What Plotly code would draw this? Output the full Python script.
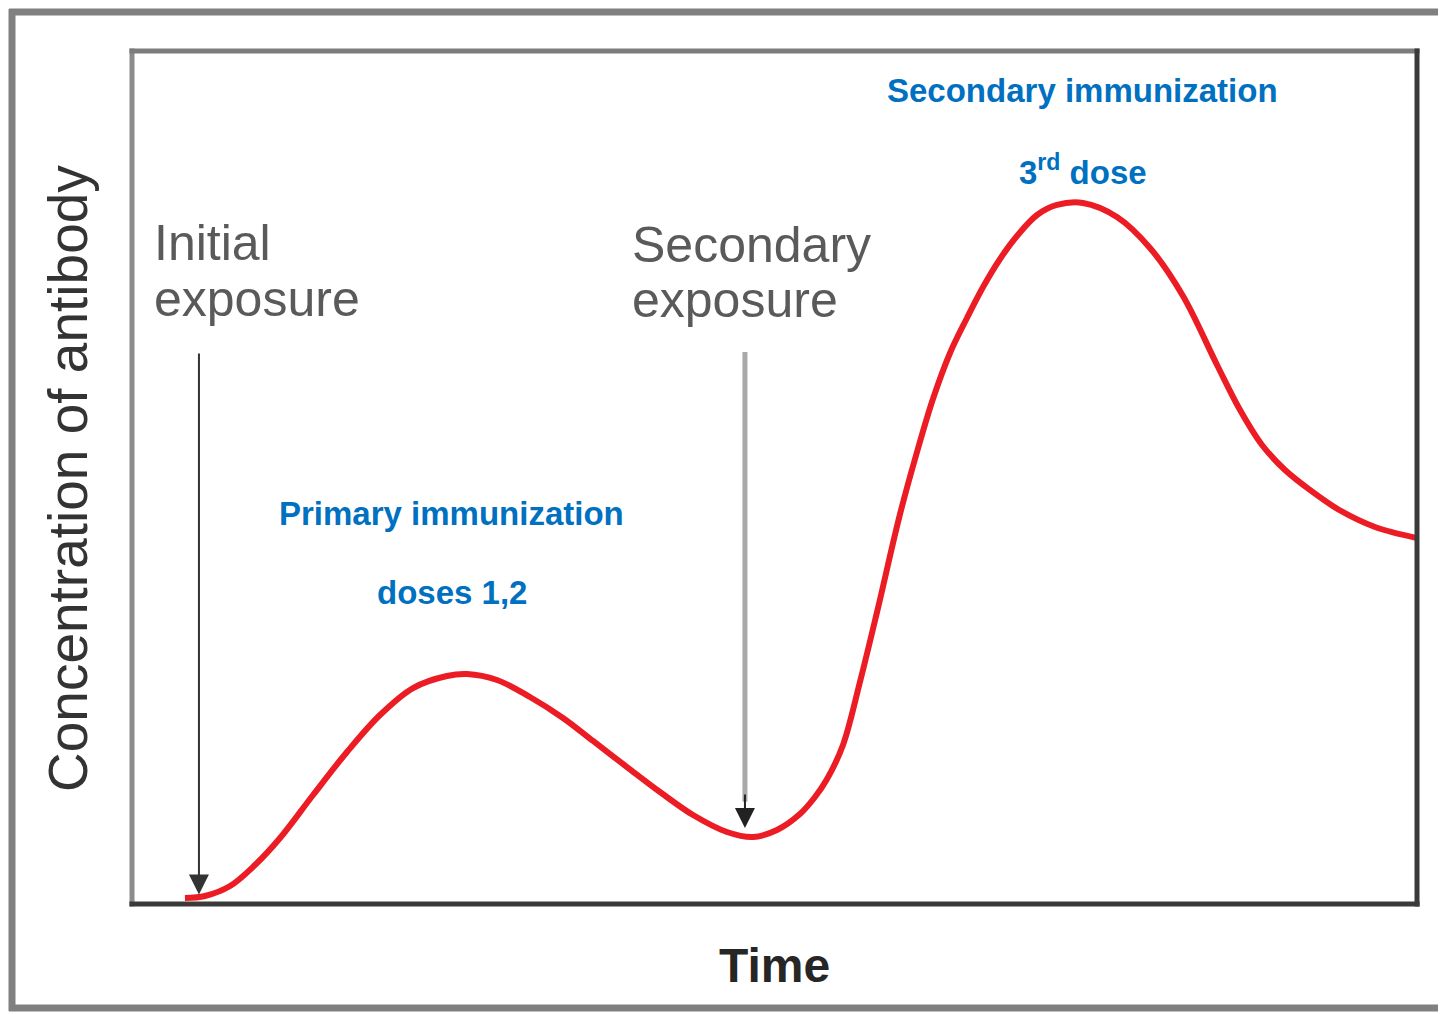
import plotly.graph_objects as go

# ---- data (time in arbitrary units 0-100, concentration 0-100) ----
time = [4.12, 5.68, 7.63, 9.57, 11.52, 14.09, 16.73, 19.30, 21.87, 24.51, 26.07, 28.40,
        30.97, 33.54, 35.88, 38.52, 41.09, 43.66, 46.30, 48.33, 50.19, 51.98, 53.15,
        54.09, 55.33, 56.65, 57.98, 59.77, 61.09, 62.33, 63.66, 64.98, 66.23,
        67.55, 68.87, 70.43, 71.98, 74.01, 76.65, 79.22, 81.79, 84.44,
        86.23, 87.94, 89.73, 91.67, 93.95, 96.73, 100.0]
concentration = [0.70, 0.94, 2.11, 4.57, 7.74, 12.78, 17.82, 22.16, 25.32, 26.73, 26.96, 26.26,
                 24.27, 21.81, 19.11, 16.06, 13.13, 10.43, 8.44, 7.85, 8.68, 10.55, 12.54,
                 14.65, 18.64, 26.03, 34.23, 45.72, 52.99, 59.20, 64.60, 68.70, 72.33,
                 75.62, 78.31, 80.77, 81.95, 82.18, 80.54, 76.91, 71.28, 63.19,
                 57.91, 53.81, 50.88, 48.54, 46.19, 44.20, 42.91]

exposure_times = [5.21, 47.70]
exposure_labels = [["Initial", "exposure"], ["Secondary", "exposure"]]
immunization_labels = [["Primary immunization", "doses 1,2"],
                       ["Secondary immunization", "3<sup>rd</sup> dose"]]
x_title = "Time"
y_title = "Concentration of antibody"

FONT = "Liberation Sans, Arial, sans-serif"
BLUE = "#0070C0"

fig = go.Figure()
fig.add_trace(go.Scatter(
    x=time, y=concentration, mode="lines",
    line=dict(color="#ec1c24", width=6, shape="spline", smoothing=1.0),
    hoverinfo="skip", showlegend=False))

# page pixel -> paper coordinates (plot area spans page x 132..1417, y 51..904)
def px(v):
    return (v - 132) / 1285
def py(v):
    return (904 - v) / 853

shapes = []
# inner plot box
shapes.append(dict(type="line", xref="paper", yref="paper", x0=0, x1=0, y0=-0.003, y1=1.003,
                   line=dict(color="#8c8c8c", width=5)))
shapes.append(dict(type="line", xref="paper", yref="paper", x0=-0.002, x1=1.002, y0=1, y1=1,
                   line=dict(color="#7c7c7c", width=5)))
shapes.append(dict(type="line", xref="paper", yref="paper", x0=-0.002, x1=1.002, y0=0, y1=0,
                   line=dict(color="#3a3a3a", width=5)))
shapes.append(dict(type="line", xref="paper", yref="paper", x0=1, x1=1, y0=-0.003, y1=1.003,
                   line=dict(color="#3a3a3a", width=5)))
# outer frame
shapes.append(dict(type="line", xref="paper", yref="paper", x0=px(12), x1=px(12), y0=py(9), y1=py(1011),
                   line=dict(color="#808080", width=7)))
shapes.append(dict(type="line", xref="paper", yref="paper", x0=px(9), x1=px(1446), y0=py(12), y1=py(12),
                   line=dict(color="#808080", width=7)))
shapes.append(dict(type="line", xref="paper", yref="paper", x0=px(9), x1=px(1446), y0=py(1008), y1=py(1008),
                   line=dict(color="#808080", width=7)))
# secondary exposure arrow shaft (gray)
shapes.append(dict(type="line", xref="x", yref="y", x0=exposure_times[1], x1=exposure_times[1],
                   y0=64.7, y1=12.0, line=dict(color="#a9a9a9", width=5)))

annotations = []
# initial exposure arrow
annotations.append(dict(x=exposure_times[0], y=1.1, ax=exposure_times[0], ay=64.7,
                        xref="x", yref="y", axref="x", ayref="y", text="",
                        showarrow=True, arrowhead=2, arrowsize=2, arrowwidth=2,
                        arrowcolor="#333333"))
# secondary exposure arrow head
annotations.append(dict(x=exposure_times[1], y=8.9, ax=exposure_times[1], ay=13.0,
                        xref="x", yref="y", axref="x", ayref="y", text="",
                        showarrow=True, arrowhead=2, arrowsize=2, arrowwidth=2,
                        arrowcolor="#222222"))

# exposure labels
gray_font = dict(family=FONT, size=50, color="#5a5a5a")
for xl, ys, lines in [(1.55, (77.5, 70.9), exposure_labels[0]),
                      (38.75, (77.3, 70.8), exposure_labels[1])]:
    for yv, t in zip(ys, lines):
        annotations.append(dict(x=xl, y=yv, xref="x", yref="y", text=t, showarrow=False,
                                xanchor="left", yanchor="middle", font=gray_font))

# immunization labels
blue_font = dict(family=FONT, size=33, color=BLUE, weight="bold")
for xc, ys, lines in [(24.9, (45.8, 36.5), immunization_labels[0]),
                      (74.0, (95.4, 86.05), immunization_labels[1])]:
    for yv, t in zip(ys, lines):
        annotations.append(dict(x=xc, y=yv, xref="x", yref="y", text="<b>" + t + "</b>",
                                showarrow=False, xanchor="center", yanchor="middle",
                                font=blue_font))

# axis titles
annotations.append(dict(x=px(774), y=py(965), xref="paper", yref="paper", text="<b>" + x_title + "</b>",
                        showarrow=False, xanchor="center", yanchor="middle",
                        font=dict(family=FONT, size=48, color="#262626")))
annotations.append(dict(x=px(68), y=py(479), xref="paper", yref="paper", text=y_title,
                        textangle=-90, showarrow=False, xanchor="center", yanchor="middle",
                        font=dict(family=FONT, size=55, color="#333333")))

# the page body adds an 8px margin, so the figure is 8px smaller than the window
fig.update_layout(
    width=1438, height=1006,
    margin=dict(l=124, r=29, t=43, b=110),
    paper_bgcolor="white", plot_bgcolor="white",
    xaxis=dict(range=[0, 100], visible=False, fixedrange=True),
    yaxis=dict(range=[0, 100], visible=False, fixedrange=True),
    shapes=shapes, annotations=annotations, showlegend=False,
)
fig.write_html("out.html", config={"displayModeBar": False})
